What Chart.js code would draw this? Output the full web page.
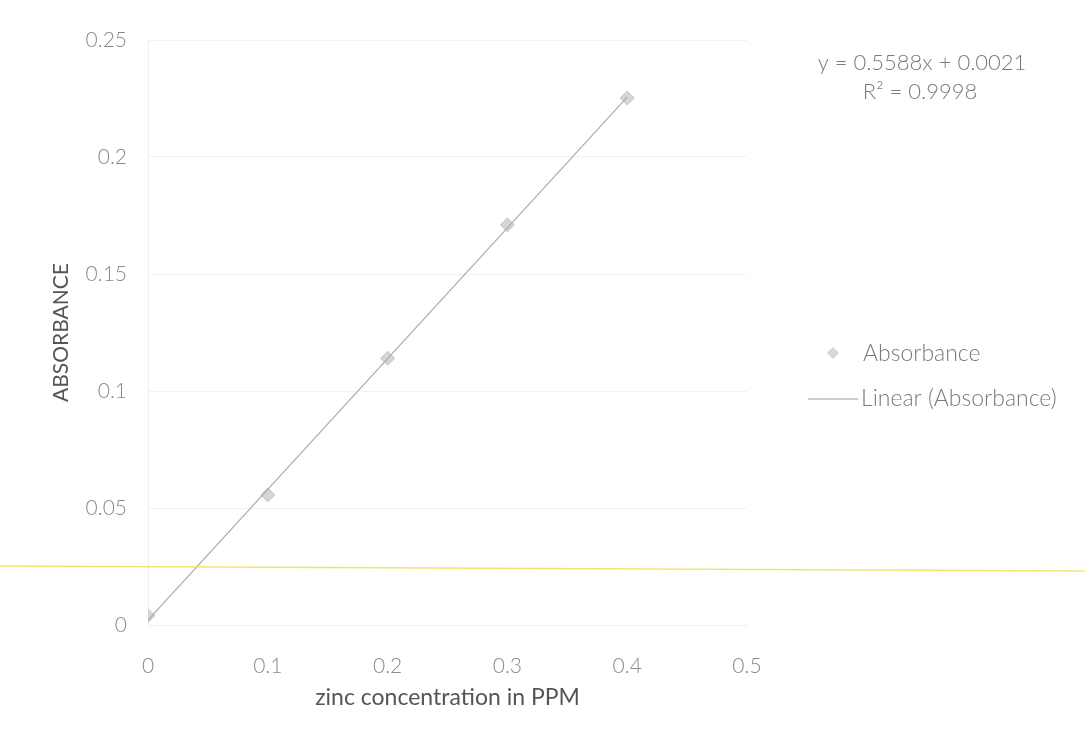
<!DOCTYPE html>
<html>
<head>
<meta charset="utf-8">
<script src="https://cdn.jsdelivr.net/npm/chart.js@4.4.1/dist/chart.umd.min.js"></script>
<style>
  html, body { margin: 0; padding: 0; background: #ffffff; }
  #wrap { width: 1085px; height: 731px; position: relative; }
</style>
</head>
<body>
<div id="wrap"><canvas id="c"></canvas></div>
<script>
// Calibration data: zinc standards (ppm) vs. measured absorbance
const concentration = [0, 0.1, 0.2, 0.3, 0.4];
const absorbance = [0.0040, 0.0556, 0.1140, 0.1710, 0.2252];

// Least-squares trendline as reported on the chart
const trendSlope = [0.5588];
const trendIntercept = [0.0021];
const trendR2 = [0.9998];
const trendRange = [0, 0.4];

// Axis ticks
const yTicks = [0, 0.05, 0.1, 0.15, 0.2, 0.25];
const xTicks = [0, 0.1, 0.2, 0.3, 0.4, 0.5];

const FONT = 'Lato, "Open Sans", "DejaVu Sans", sans-serif';

const trendPoints = trendRange.map(x => ({ x: x, y: trendSlope[0] * x + trendIntercept[0] }));
const points = concentration.map((x, i) => ({ x: x, y: absorbance[i] }));

const fmt = v => String(+v.toFixed(2));

// Equation box, legend and the faint scanner streak across the page
const extras = {
  id: 'extras',
  afterDraw(chart) {
    const ctx = chart.ctx;
    ctx.save();
    ctx.fillStyle = '#7a7a7a';
    ctx.textBaseline = 'middle';
    ctx.textAlign = 'center';
    ctx.font = '300 22px ' + FONT;
    ctx.fillText('y = ' + trendSlope[0].toFixed(4) + 'x + ' + trendIntercept[0].toFixed(4), 922, 63);
    ctx.fillText('R\u00B2 = ' + trendR2[0].toFixed(4), 920, 92);

    // legend
    ctx.textAlign = 'left';
    ctx.font = '300 23px ' + FONT;
    ctx.fillText('Absorbance', 863, 354);
    ctx.fillText('Linear (Absorbance)', 861, 399);
    // diamond marker
    ctx.fillStyle = '#d6d6d6';
    ctx.beginPath();
    ctx.moveTo(833, 347); ctx.lineTo(839, 353); ctx.lineTo(833, 359); ctx.lineTo(827, 353);
    ctx.closePath();
    ctx.fill();
    // line sample
    ctx.strokeStyle = '#9a9a9a';
    ctx.lineWidth = 1.2;
    ctx.beginPath();
    ctx.moveTo(808, 399); ctx.lineTo(858, 399);
    ctx.stroke();

    // scanner streak
    ctx.strokeStyle = 'rgba(238, 222, 90, 0.85)';
    ctx.lineWidth = 1.5;
    ctx.beginPath();
    ctx.moveTo(0, 566); ctx.lineTo(1085, 571);
    ctx.stroke();
    ctx.restore();
  }
};

new Chart(document.getElementById('c'), {
  type: 'scatter',
  data: {
    datasets: [
      {
        label: 'Linear (Absorbance)',
        type: 'line',
        data: trendPoints,
        borderColor: '#a8a8a8',
        borderWidth: 1.1,
        pointRadius: 0,
        fill: false,
        order: 0
      },
      {
        label: 'Absorbance',
        data: points,
        pointStyle: 'rectRot',
        pointRadius: 7,
        backgroundColor: 'rgba(204,204,204,0.8)',
        borderColor: 'rgba(190,190,190,0.85)',
        borderWidth: 1,
        order: 1
      }
    ]
  },
  options: {
    responsive: true,
    maintainAspectRatio: false,
    animation: false,
    layout: { padding: { left: 0, right: 338, top: 40, bottom: 0 } },
    plugins: {
      legend: { display: false },
      tooltip: { enabled: false }
    },
    scales: {
      x: {
        type: 'linear',
        min: 0,
        max: 0.5,
        afterBuildTicks: s => { s.ticks = xTicks.map(v => ({ value: v })); },
        afterFit: s => { s.height = 106; },
        grid: { display: false },
        border: { display: true, color: '#f0f0f0' },
        ticks: {
          color: '#8a8a8a',
          font: { family: FONT, size: 21, weight: 300 },
          padding: 21,
          maxRotation: 0,
          callback: v => fmt(v)
        },
        title: {
          display: true,
          text: 'zinc concentration in PPM',
          color: '#555555',
          font: { family: FONT, size: 23 },
          padding: { top: 0, bottom: 20 }
        }
      },
      y: {
        type: 'linear',
        min: 0,
        max: 0.25,
        afterBuildTicks: s => { s.ticks = yTicks.map(v => ({ value: v })); },
        afterFit: s => { s.width = 148; },
        grid: { color: '#f1f1f1', drawTicks: false },
        border: { display: true, color: '#f0f0f0' },
        ticks: {
          color: '#8a8a8a',
          font: { family: FONT, size: 21, weight: 300 },
          padding: 21,
          callback: v => fmt(v)
        },
        title: {
          display: true,
          text: 'ABSORBANCE',
          color: '#555555',
          font: { family: FONT, size: 21 },
          padding: { top: 49, bottom: 0 }
        }
      }
    }
  },
  plugins: [extras]
});
</script>
</body>
</html>
